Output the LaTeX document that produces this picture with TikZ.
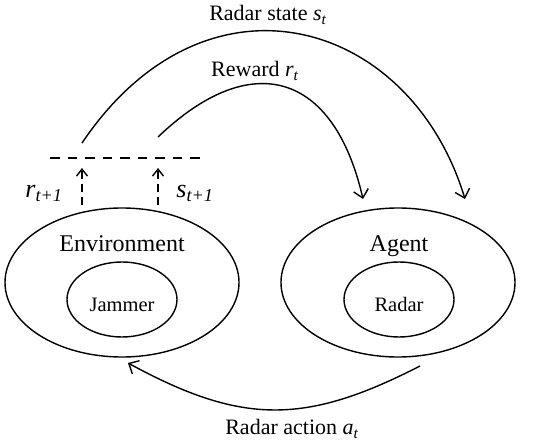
\documentclass[tikz,border=0pt]{standalone}
\usepackage{fontspec}
\setmainfont{Liberation Serif}
\usetikzlibrary{shapes.geometric,arrows.meta}

\begin{document}
\begin{tikzpicture}[x=1pt,y=-1pt,line width=1.4pt,
  outer/.style={draw,ellipse,minimum width=234pt,minimum height=149pt,inner sep=0pt},
  inner/.style={draw,ellipse,minimum width=110pt,minimum height=75pt,inner sep=0pt},
  flow/.style={-{Straight Barb[length=8pt,width=15pt]}},
  feed/.style={dash pattern=on 8pt off 5pt,-{Straight Barb[length=7pt,width=11pt]}},
  bigtext/.style={anchor=base,font=\fontsize{24}{28}\selectfont},
  midtext/.style={anchor=base,font=\fontsize{22}{26}\selectfont},
  smalltext/.style={anchor=base,font=\fontsize{20.5}{24}\selectfont}]
  \useasboundingbox (0,0) rectangle (550,441);

  % environment and agent
  \node[outer] (env) at (122,282.5) {};
  \node[outer] (agent) at (398,282.5) {};
  \node[inner] (jam) at (122,299.5) {};
  \node[inner] (rad) at (399,299.5) {};
  \node[bigtext] (envname) at (122,252) {Environment};
  \node[bigtext] (agentname) at (399,252) {Agent};
  \node[smalltext] (jamname) at (122,312) {Jammer};
  \node[smalltext] (radname) at (399,312) {Radar};

  % observations
  \coordinate (obs1) at (50,158);
  \coordinate (obs2) at (200,158);
  \draw[dash pattern=on 9.5pt off 8pt] (obs1) -- (obs2);
  \coordinate (rlow) at (82,205);
  \coordinate (rtop) at (82,168);
  \coordinate (slow) at (158,205);
  \coordinate (stop) at (158,168);
  \draw[feed] (rlow) -- (rtop);
  \draw[feed] (slow) -- (stop);
  \node[anchor=base,font=\fontsize{26}{30}\selectfont] (rnext) at (44,198) {\textit{r}\textsubscript{\textit{t+1}}};
  \node[anchor=base,font=\fontsize{26}{30}\selectfont] (snext) at (195,198) {\textit{s}\textsubscript{\textit{t+1}}};

  % state, reward, action
  \coordinate (st0) at (82,143);
  \coordinate (st1) at (465,199);
  \coordinate (rw0) at (158,137);
  \coordinate (rw1) at (363,199);
  \coordinate (ac0) at (420,366);
  \coordinate (ac1) at (128,363);
  \draw[flow] (st0) .. controls (206,-41) and (410,18) .. (st1);
  \draw[flow] (rw0) .. controls (252,47) and (334,73) .. (rw1);
  \draw[flow] (ac0) .. controls (305,425) and (242,425) .. (ac1);
  \node[midtext] (statename) at (268,21) {Radar state \textit{s}\textsubscript{\textit{t}}};
  \node[midtext] (rewardname) at (255,77) {Reward \textit{r}\textsubscript{\textit{t}}};
  \node[midtext] (actionname) at (292,435) {Radar action \textit{a}\textsubscript{\textit{t}}};
\end{tikzpicture}
\end{document}
